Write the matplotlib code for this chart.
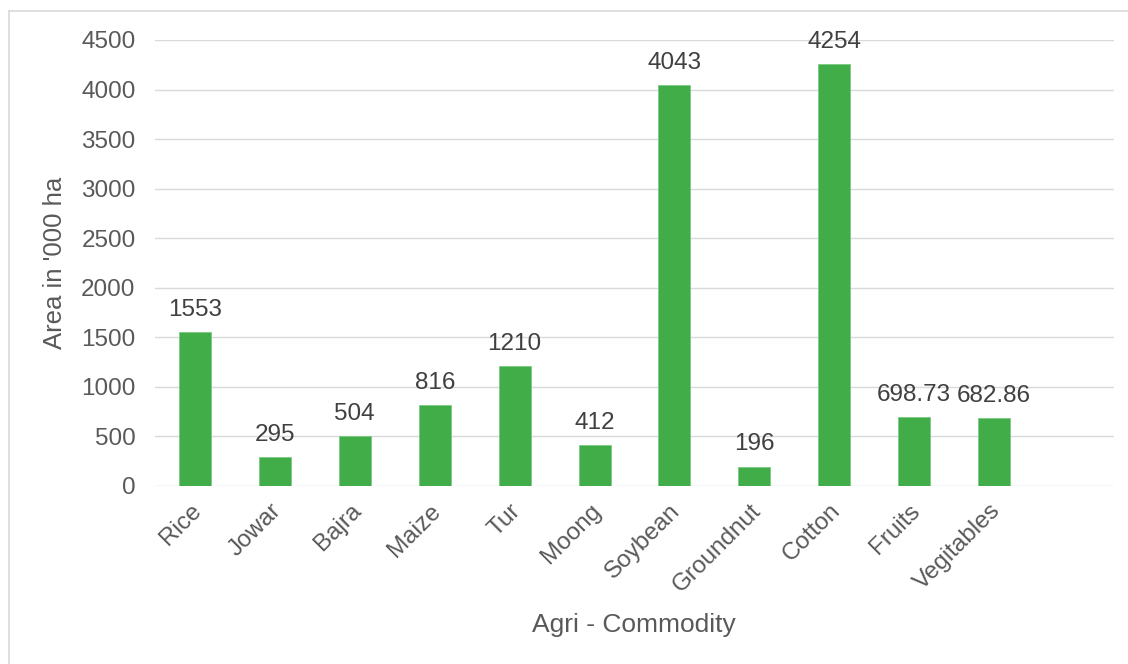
import matplotlib.pyplot as plt
from matplotlib.lines import Line2D
import matplotlib.transforms as mtransforms

plt.rcParams['font.family'] = ['Liberation Sans', 'DejaVu Sans']

crops = ['Rice', 'Jowar', 'Bajra', 'Maize', 'Tur', 'Moong', 'Soybean',
         'Groundnut', 'Cotton', 'Fruits', 'Vegitables']
area = [1553, 295, 504, 816, 1210, 412, 4043, 196, 4254, 698.73, 682.86]
labels = ['1553', '295', '504', '816', '1210', '412', '4043', '196', '4254',
          '698.73', '682.86']
yticks = [0, 500, 1000, 1500, 2000, 2500, 3000, 3500, 4000, 4500]

W, H = 1128, 664
fig = plt.figure(figsize=(W / 100, H / 100), dpi=100)
ax = fig.add_axes([155 / W, 1 - 486 / H, (1114 - 155) / W, (486 - 40) / H])

x = list(range(len(crops)))
ax.bar(x, area, width=0.4, color='#41ad49', edgecolor='#7cc983',
       linewidth=0.6, zorder=3)

for xi, v, s in zip(x, area, labels):
    ax.annotate(s, (xi, v), xytext=(0, 8), textcoords='offset points',
                ha='center', va='bottom', fontsize=17.5, color='#404040')

ax.set_xlim(-0.5, 11.5)
ax.set_ylim(0, 4500)
ax.set_yticks(yticks)
ax.set_xticks(x)
ax.set_xticklabels(crops, rotation=45, ha='right', va='top',
                   rotation_mode='anchor')
ax.tick_params(axis='x', length=0, pad=10, labelsize=17.5, labelcolor='#595959')
ax.tick_params(axis='y', length=0, pad=14, labelsize=17.5, labelcolor='#595959')
# nudge the slanted category names a little to the left
shift = mtransforms.ScaledTranslation(-5 / 100, 0, fig.dpi_scale_trans)
for lbl in ax.get_xticklabels():
    lbl.set_transform(lbl.get_transform() + shift)
ax.grid(axis='y', color='#d9d9d9', linewidth=1.0, zorder=0)
for sp in ax.spines.values():
    sp.set_visible(False)

ax.set_ylabel("Area in '000 ha", fontsize=18.5, color='#595959', labelpad=10)
fig.text(634 / W, 1 - 625 / H, 'Agri - Commodity', fontsize=19,
         color='#595959', ha='center', va='center')

# chart frame
fig.add_artist(Line2D([9 / W, 9 / W], [0, 1 - 11 / H], transform=fig.transFigure,
                      color='#d9d9d9', linewidth=1.2))
fig.add_artist(Line2D([9 / W, 1], [1 - 11 / H, 1 - 11 / H], transform=fig.transFigure,
                      color='#d9d9d9', linewidth=1.2))

fig.savefig('out.png', dpi=100)
